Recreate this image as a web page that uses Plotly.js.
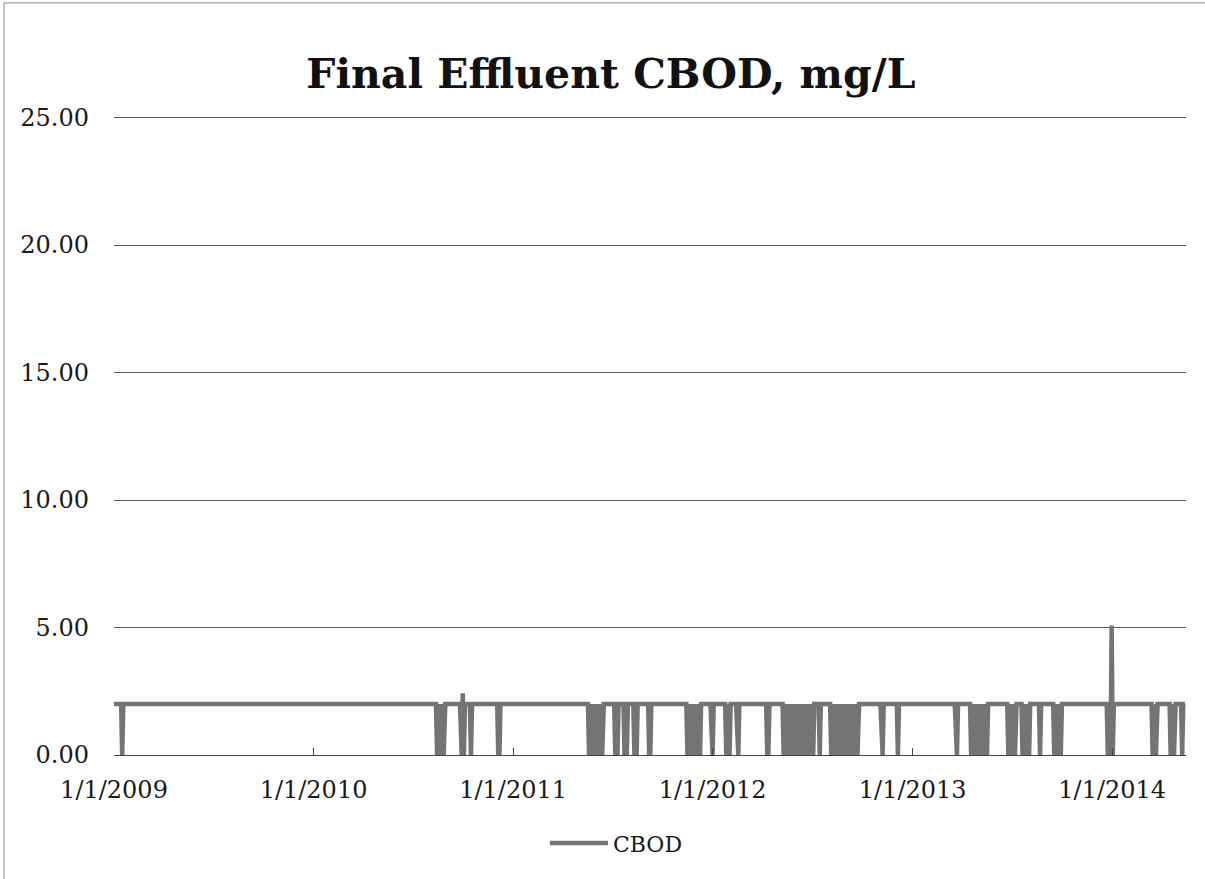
<!DOCTYPE html>
<html>
<head>
<meta charset="utf-8">
<script src="https://cdn.plot.ly/plotly-3.0.1.min.js"></script>
<style>
html, body { margin: 0; padding: 0; background: #ffffff; }
#chart { width: 1205px; height: 879px; }
</style>
</head>
<body>
<div id="chart"></div>
<script>
// Vertices of the CBOD line
const cbodDates = [
  '2009-01-01',
  '2009-01-14','2009-01-16','2009-01-18',
  '2010-08-13','2010-08-15','2010-08-18','2010-08-21','2010-08-24','2010-08-27','2010-08-30',
  '2010-09-26','2010-09-29','2010-10-01','2010-10-03','2010-10-05',
  '2010-10-14','2010-10-16','2010-10-18',
  '2010-12-03','2010-12-05','2010-12-07','2010-12-09',
  '2011-05-18','2011-05-20','2011-05-23','2011-05-26','2011-05-29','2011-06-01','2011-06-04','2011-06-07','2011-06-10','2011-06-13','2011-06-16',
  '2011-07-05','2011-07-07','2011-07-09','2011-07-11','2011-07-13',
  '2011-07-22','2011-07-24','2011-07-26','2011-07-28','2011-07-30',
  '2011-08-09','2011-08-11','2011-08-13','2011-08-15','2011-08-17',
  '2011-09-05','2011-09-07','2011-09-09','2011-09-11',
  '2011-11-14','2011-11-16','2011-11-19','2011-11-22','2011-11-25','2011-11-28','2011-12-01','2011-12-04','2011-12-07','2011-12-09','2011-12-11',
  '2011-12-28','2011-12-30','2012-01-01','2012-01-03',
  '2012-01-24','2012-01-26','2012-01-29','2012-02-01','2012-02-03',
  '2012-02-13','2012-02-15','2012-02-17','2012-02-19',
  '2012-04-08','2012-04-10','2012-04-12','2012-04-14',
  '2012-05-08','2012-05-10','2012-05-13','2012-05-16','2012-05-19','2012-05-22','2012-05-25','2012-05-28','2012-05-31','2012-06-03','2012-06-06','2012-06-09','2012-06-12','2012-06-15','2012-06-18','2012-06-21','2012-06-24','2012-06-27','2012-06-30','2012-07-03','2012-07-05',
  '2012-07-13','2012-07-15','2012-07-17',
  '2012-08-03','2012-08-05','2012-08-08','2012-08-11','2012-08-14','2012-08-17','2012-08-20','2012-08-23','2012-08-26','2012-08-29','2012-09-01','2012-09-04','2012-09-07','2012-09-10','2012-09-13','2012-09-16','2012-09-19','2012-09-22','2012-09-25',
  '2012-11-03','2012-11-05','2012-11-07','2012-11-09',
  '2012-12-03','2012-12-05','2012-12-07',
  '2013-03-19','2013-03-21','2013-03-23','2013-03-25',
  '2013-04-16','2013-04-18','2013-04-21','2013-04-24','2013-04-27','2013-04-30','2013-05-03','2013-05-06','2013-05-09','2013-05-12','2013-05-15','2013-05-17','2013-05-19',
  '2013-06-23','2013-06-25','2013-06-28','2013-07-01','2013-07-04','2013-07-07','2013-07-10',
  '2013-07-19','2013-07-21','2013-07-24','2013-07-27','2013-07-30','2013-08-02','2013-08-04',
  '2013-08-20','2013-08-22','2013-08-24',
  '2013-09-15','2013-09-17','2013-09-20','2013-09-23','2013-09-26','2013-09-29','2013-10-01',
  '2013-12-22','2013-12-24','2013-12-27','2013-12-29','2013-12-31','2014-01-02','2014-01-04',
  '2014-03-14','2014-03-16','2014-03-19','2014-03-22','2014-03-25',
  '2014-04-16','2014-04-18','2014-04-21','2014-04-24','2014-04-27',
  '2014-05-07','2014-05-09','2014-05-11','2014-05-14'
];
const cbodValues = [
  2,
  2,0,2,
  2,0,2,0,2,0,2,
  2,0,2.42,0,2,
  2,0,2,
  2,0,0,2,
  2,0,2,0,2,0,2,0,2,0,2,
  2,0,2,0,2,
  2,0,2,0,2,
  2,0,2,0,2,
  2,0,0,2,
  2,0,2,0,2,0,2,0,2,0,2,
  2,0,0,2,
  2,0,2,0,2,
  2,0,0,2,
  2,0,0,2,
  2,0,2,0,2,0,2,0,2,0,2,0,2,0,2,0,2,0,2,0,2,
  2,0,2,
  2,0,2,0,2,0,2,0,2,0,2,0,2,0,2,0,2,0,2,
  2,0,0,2,
  2,0,2,
  2,0,0,2,
  2,0,2,0,2,0,2,0,2,0,2,0,2,
  2,0,2,0,2,0,2,
  2,0,2,0,2,0,2,
  2,0,2,
  2,0,2,0,2,0,2,
  2,0,2,0,5.08,0,2,
  2,0,2,0,2,
  2,0,2,0,2,
  2,0,2,2
];
const seriesName = 'CBOD';
const chartTitle = 'Final Effluent CBOD, mg/L';
const xTickDates = ['2009-01-01','2010-01-01','2011-01-01','2012-01-01','2013-01-01','2014-01-01'];
const xTickLabels = ['1/1/2009','1/1/2010','1/1/2011','1/1/2012','1/1/2013','1/1/2014'];
const xRange = ['2009-01-01','2014-05-16'];
const yRange = [0, 25.06];

const FONT = 'DejaVu Serif, Liberation Serif, serif';

const trace = {
  type: 'scatter',
  mode: 'lines',
  name: seriesName,
  x: cbodDates,
  y: cbodValues,
  line: { color: '#747474', width: 4.5 },
  hoverinfo: 'x+y'
};

const layout = {
  width: 1205,
  height: 879,
  margin: { l: 114, r: 19, t: 116, b: 124 },
  paper_bgcolor: '#ffffff',
  plot_bgcolor: '#ffffff',
  font: { family: FONT, color: '#1a1a1a', size: 23 },
  title: {
    text: '<b>' + chartTitle + '</b>',
    font: { family: FONT, size: 41, color: '#111111' },
    x: 0.507, xref: 'container', xanchor: 'center',
    y: 0.916, yref: 'container', yanchor: 'middle'
  },
  showlegend: true,
  legend: {
    orientation: 'h',
    x: 0.402, xanchor: 'left',
    y: -0.138, yanchor: 'middle',
    itemwidth: 58,
    font: { family: FONT, size: 22, color: '#1a1a1a' },
    bgcolor: 'rgba(0,0,0,0)'
  },
  xaxis: {
    type: 'date',
    range: xRange,
    tickmode: 'array',
    tickvals: xTickDates,
    ticktext: xTickLabels,
    ticks: 'inside',
    ticklen: 7,
    tickcolor: '#444444',
    showgrid: false,
    showline: true,
    linecolor: '#444444',
    linewidth: 1,
    zeroline: false,
    ticklabelstandoff: 13,
    tickfont: { family: FONT, size: 24, color: '#1a1a1a' }
  },
  yaxis: {
    range: yRange,
    tickmode: 'linear',
    tick0: 0,
    dtick: 5,
    tickformat: '.2f',
    showgrid: true,
    gridcolor: '#5a5a5a',
    gridwidth: 1,
    showline: false,
    zeroline: false,
    ticks: '',
    ticklabelstandoff: 24,
    tickfont: { family: FONT, size: 24, color: '#1a1a1a' }
  },
  shapes: [{
    type: 'rect', xref: 'paper', yref: 'paper',
    x0: -0.1026, x1: 1.03, y0: -0.21, y1: 1.177,
    line: { color: '#8a8a8a', width: 1 }
  }]
};

Plotly.newPlot('chart', [trace], layout, { displayModeBar: false, staticPlot: true });
</script>
</body>
</html>
